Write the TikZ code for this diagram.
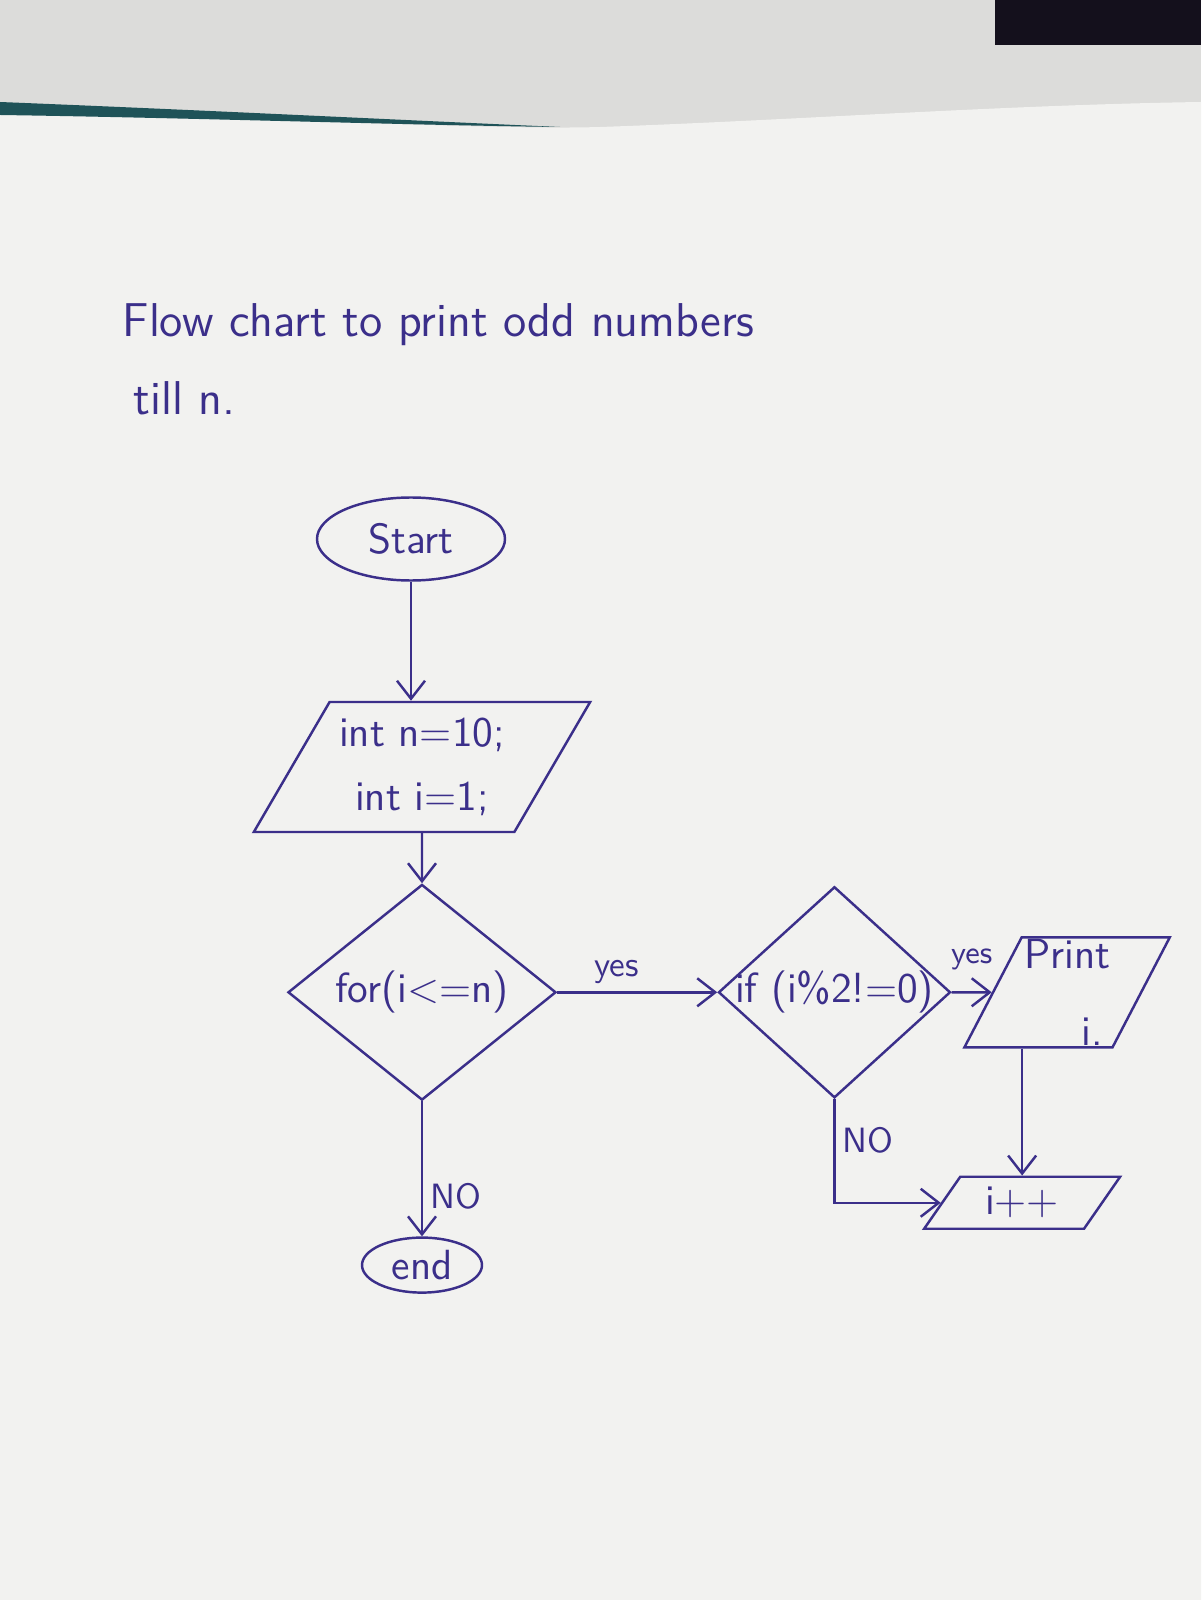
\documentclass[tikz,border=0pt]{standalone}
\usetikzlibrary{arrows.meta}
\usetikzlibrary{positioning}
\usetikzlibrary{shapes.geometric}
\usepackage{xcolor}
\definecolor{ink}{HTML}{3B2F8A}
\definecolor{paper}{HTML}{F2F2F0}
\definecolor{desk}{HTML}{DCDCDA}
\definecolor{edgeteal}{HTML}{1F5358}
\definecolor{shadow}{HTML}{14101C}

\begin{document}
\begin{tikzpicture}[
  node distance=1cm and 1cm,
  terminal/.style={ellipse, draw=ink, line width=0.7pt, inner sep=0pt,
    font=\sffamily\large\color{ink}},
  iobox/.style={trapezium, trapezium left angle=55, trapezium right angle=125,
    trapezium stretches=true, draw=ink, line width=0.7pt, inner sep=0pt,
    align=center, font=\sffamily\large\color{ink}},
  decision/.style={diamond, draw=ink, line width=0.7pt, inner sep=0pt,
    font=\sffamily\large\color{ink}},
  arrow/.style={-{Straight Barb[length=1.8mm, width=2.8mm]}, line width=0.7pt, draw=ink},
  branch/.style={font=\sffamily\color{ink}, inner sep=2pt},
  titletext/.style={font=\sffamily\fontsize{13.5}{16}\selectfont\color{ink}, anchor=west, inner sep=0pt},
]
% === Background: desk and sheet ===
\useasboundingbox (0,0) rectangle (12.01,-16);
\fill[desk] (0,0) rectangle (12.01,-16);
\fill[paper] (0,-1.1) .. controls (3,-1.2) and (5,-1.3) .. (6,-1.27)
  .. controls (8,-1.2) and (10,-1.05) .. (12.01,-1.02) -- (12.01,-16) -- (0,-16) -- cycle;
\fill[edgeteal] (0,-1.02) .. controls (2,-1.1) and (4,-1.2) .. (5.6,-1.27)
  .. controls (4,-1.25) and (2,-1.18) .. (0,-1.15) -- cycle;
\fill[shadow] (9.95,0) rectangle (12.01,-0.45);

% === Title ===
\node[titletext] (title) at (1.22,-3.25) {Flow chart to print odd numbers};
\node[titletext] (title2) at (1.33,-3.98) {till n.};

% === Main column ===
\node[terminal, minimum width=1.88cm, minimum height=0.83cm] (start) at (4.11,-5.39) {Start};
\node[iobox, minimum width=3.38cm, minimum height=1.3cm, below=1.19cm of start, xshift=0.11cm] (init)
  {int n=10;\\[4pt]int i=1;};
\node[decision, minimum width=2.68cm, minimum height=2.1cm, below=0.5cm of init] (loop) {for(i<=n)};
\node[terminal, minimum width=1.2cm, minimum height=0.55cm, below=1.35cm of loop] (end) {end};
\draw[arrow] (start) -- (start |- init.north);
\draw[arrow] (init) -- (loop);
\draw[arrow] (loop) -- node[pos=0.7, right, branch] {NO} (end);

% === Loop body ===
\node[decision, inner xsep=-0.15cm, minimum width=2.32cm, minimum height=2.06cm, right=1.6cm of loop] (check)
  {if (i\%2!=0)};
\node[iobox, trapezium left angle=63, trapezium right angle=117, minimum width=2.06cm, minimum height=1.1cm,
  right=0.4cm of check] (print) {Print\\[8pt]\hspace*{0.5cm}i.};
\node[iobox, minimum width=1.96cm, minimum height=0.52cm, below=1.27cm of print, xshift=-0.45cm] (inc) {i++};
\draw[arrow] (loop) -- node[pos=0.37, above, branch] {yes} (check);
\draw[arrow] (check) -- node[above=4pt, branch, font=\sffamily\small\color{ink}] {yes} (print);
\draw[arrow] (print.south -| inc.north) -- (inc.north);
\draw[arrow] (check.south) |- node[pos=0.2, right, branch] {NO} (inc.west);
\end{tikzpicture}
\end{document}
